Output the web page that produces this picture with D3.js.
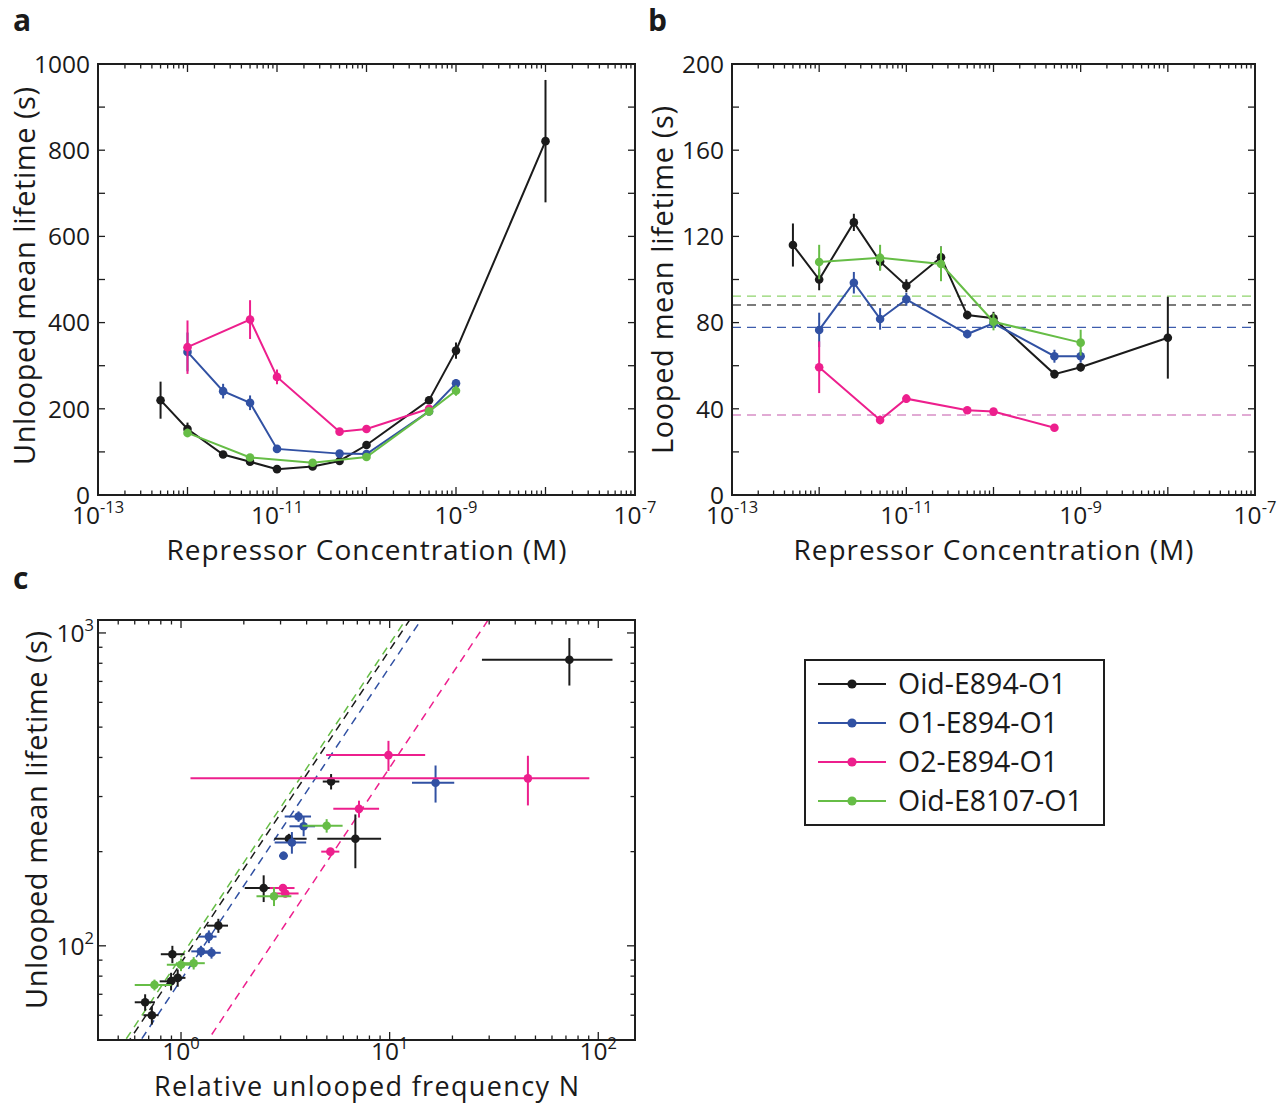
<!DOCTYPE html>
<html>
<head>
<meta charset="utf-8">
<script src="https://cdn.jsdelivr.net/npm/d3@7"></script>
<style>
  body { margin: 0; background: #fff; }
  svg { display: block; }
  text { font-family: "Open Sans", "Noto Sans", sans-serif; fill: #1a1a1a; }
</style>
</head>
<body>
<svg id="fig" width="1278" height="1104"></svg>
<script>
// ---- data (one entry per construct, in legend order) ----
const seriesNames  = ["Oid-E894-O1", "O1-E894-O1", "O2-E894-O1", "Oid-E8107-O1"];
const seriesColors = ["#1b1b1b", "#3151a3", "#ed1f8d", "#66bd46"];

// repressor concentration (M)
const concM = [
  [5e-13, 1e-12, 2.5e-12, 5e-12, 1e-11, 2.5e-11, 5e-11, 1e-10, 5e-10, 1e-9, 1e-8],
  [1e-12, 2.5e-12, 5e-12, 1e-11, 5e-11, 1e-10, 5e-10, 1e-9],
  [1e-12, 5e-12, 1e-11, 5e-11, 1e-10, 5e-10],
  [1e-12, 5e-12, 2.5e-11, 1e-10, 5e-10, 1e-9]
];
// unlooped mean lifetime (s) and its error
const unloopedS = [
  [220, 153, 94, 77, 60, 66, 79, 116, 220, 335, 821],
  [332, 241, 214, 107, 96, 95, 194, 259],
  [343, 407, 274, 147, 153, 200],
  [144, 87, 75, 88, 194, 242]
];
const unloopedErr = [
  [43, 15, 6, 5, 4, 4, 5, 6, 8, 19, 142],
  [45, 17, 17, 5, 4, 4, 6, 10],
  [62, 45, 17, 4, 4, 5],
  [10, 4, 3, 4, 5, 12]
];
// looped mean lifetime (s) and its error (null = not measured)
const loopedS = [
  [116, 100, 126.5, 108.3, 97.1, 110.3, 83.5, 82, 56.1, 59.3, 73],
  [76.6, 98.5, 81.7, 90.8, 74.7, 79.7, 64.4, 64.4],
  [59.3, 34.8, 44.7, 39.3, 38.7, 31.2],
  [108.1, 110.1, 107.2, 80.4, null, 70.7]
];
const loopedErr = [
  [10, 5, 4, 4, 3, 5, 2, 3, 2, 2, 19],
  [8, 5, 5, 3, 2, 2, 3, 3],
  [12, 2, 2, 1, 1, 1],
  [8, 6, 8, 4, null, 6]
];
// average looped lifetime per construct (s)
const loopedMeanS = [88.2, 77.8, 37.1, 92.3];
// relative unlooped frequency N with its lower / upper bounds
const relFreqN = [
  [6.85, 2.49, 0.909, 0.896, 0.725, 0.673, 0.964, 1.51, 3.29, 5.24, 72.7],
  [16.6, 3.87, 3.4, 1.36, 1.246, 1.4, 3.1, 3.66],
  [46, 9.87, 7.13, 3.16, 3.08, 5.2],
  [2.79, 1.0, 0.746, 1.15, null, 4.99]
];
const relFreqLo = [
  [4.5, 2.02, 0.80, 0.79, 0.66, 0.60, 0.88, 1.33, 2.8, 4.78, 27.7],
  [12.8, 3.31, 2.81, 1.21, 1.12, 1.28, 2.95, 3.14],
  [1.11, 4.96, 5.37, 2.81, 2.66, 4.7],
  [2.3, 0.855, 0.6, 1.02, null, 3.82]
];
const relFreqHi = [
  [9.1, 2.97, 1.04, 0.94, 0.78, 0.75, 1.05, 1.68, 4.0, 5.74, 117],
  [20.4, 4.39, 3.98, 1.48, 1.35, 1.55, 3.25, 4.2],
  [90.6, 14.8, 8.9, 3.66, 3.5, 5.74],
  [3.38, 1.17, 0.9, 1.3, null, 5.95]
];

// axis ticks / labels
const concDecades = [-13, -12, -11, -10, -9, -8, -7];
const concLabelExp = [-13, -11, -9, -7];
const unloopedTicksA = d3.range(0, 1001, 100);
const unloopedLabelsA = [0, 200, 400, 600, 800, 1000];
const loopedTicksB = d3.range(0, 201, 20);
const loopedLabelsB = [0, 40, 80, 120, 160, 200];
const freqDecades = [-1, 0, 1, 2];
const freqLabelExp = [0, 1, 2];
const lifeDecades = [1, 2, 3];
const lifeLabelExp = [2, 3];

// ---- drawing ----
const svg = d3.select("#fig");
const INK = "#1e1e1e";
const TICK_FONT = 24.5, SUP_FONT = 16.5, TITLE_FONT = 28;

function frame(g, x0, x1, y0, y1) {
  g.append("rect").attr("x", x0).attr("y", y0).attr("width", x1 - x0).attr("height", y1 - y0)
    .attr("fill", "none").attr("stroke", INK).attr("stroke-width", 2);
}
function tickLine(g, x1, y1, x2, y2) {
  g.append("line").attr("x1", x1).attr("y1", y1).attr("x2", x2).attr("y2", y2)
    .attr("stroke", INK).attr("stroke-width", 1.3);
}
function powerLabel(g, x, y, exp, anchor) {
  const t = g.append("text").attr("x", x).attr("y", y).attr("text-anchor", anchor)
    .style("font-size", TICK_FONT + "px");
  t.append("tspan").text("10");
  t.append("tspan").attr("dy", -11).style("font-size", SUP_FONT + "px").text(exp);
}
function logTicksX(g, x, decades, y0, y1, major, minor) {
  const [lo, hi] = x.domain();
  decades.forEach(d => {
    const base = Math.pow(10, d);
    if (base >= lo * 0.999 && base <= hi * 1.001) {
      tickLine(g, x(base), y1, x(base), y1 - major);
      tickLine(g, x(base), y0, x(base), y0 + major);
    }
    for (let k = 2; k <= 9; k++) {
      const v = k * base;
      if (v < lo || v > hi) continue;
      tickLine(g, x(v), y1, x(v), y1 - minor);
      tickLine(g, x(v), y0, x(v), y0 + minor);
    }
  });
}
function logTicksY(g, y, decades, x0, x1, major, minor) {
  const [lo, hi] = y.domain();
  decades.forEach(d => {
    const base = Math.pow(10, d);
    if (base >= lo && base <= hi) {
      tickLine(g, x0, y(base), x0 + major, y(base));
      tickLine(g, x1, y(base), x1 - major, y(base));
    }
    for (let k = 2; k <= 9; k++) {
      const v = k * base;
      if (v < lo || v > hi) continue;
      tickLine(g, x0, y(v), x0 + minor, y(v));
      tickLine(g, x1, y(v), x1 - minor, y(v));
    }
  });
}
function linTicksY(g, y, ticks, labels, x0, x1, len) {
  ticks.forEach(v => {
    tickLine(g, x0, y(v), x0 + len, y(v));
    tickLine(g, x1, y(v), x1 - len, y(v));
  });
  labels.forEach(v => {
    g.append("text").attr("x", x0 - 8).attr("y", y(v)).attr("dy", "0.36em")
      .attr("text-anchor", "end").style("font-size", TICK_FONT + "px").text(v);
  });
}
function panelLetter(x, y, s) {
  svg.append("text").attr("x", x).attr("y", y).style("font-size", "30px")
    .style("font-weight", "bold").text(s);
}
function yTitle(x, y, s, len) {
  svg.append("text").attr("transform", `translate(${x},${y}) rotate(-90)`)
    .attr("text-anchor", "middle").style("font-size", "29px")
    .attr("textLength", len).attr("lengthAdjust", "spacing").text(s);
}
function xTitle(x, y, s, size, len) {
  svg.append("text").attr("x", x).attr("y", y).attr("text-anchor", "middle")
    .style("font-size", size + "px")
    .attr("textLength", len).attr("lengthAdjust", "spacing").text(s);
}
function rows(i, xs, ys, es) {
  return xs[i].map((c, j) => ({ x: c, y: ys[i][j], e: es[i][j] })).filter(d => d.y != null);
}

// ---- panel a : unlooped lifetime vs concentration ----
{
  const L = 98, R = 635, T = 64, B = 495;
  const x = d3.scaleLog().domain([1e-13, 1e-7]).range([L, R]);
  const y = d3.scaleLinear().domain([0, 1000]).range([B, T]);
  const g = svg.append("g");
  seriesNames.forEach((name, i) => {
    const data = rows(i, concM, unloopedS, unloopedErr);
    const col = seriesColors[i];
    g.append("path").datum(data)
      .attr("d", d3.line().x(d => x(d.x)).y(d => y(d.y)))
      .attr("fill", "none").attr("stroke", col).attr("stroke-width", 2);
    g.selectAll(null).data(data).enter().append("line")
      .attr("x1", d => x(d.x)).attr("x2", d => x(d.x))
      .attr("y1", d => y(d.y - d.e)).attr("y2", d => y(d.y + d.e))
      .attr("stroke", col).attr("stroke-width", 2);
    g.selectAll(null).data(data).enter().append("circle")
      .attr("cx", d => x(d.x)).attr("cy", d => y(d.y)).attr("r", 4.3).attr("fill", col);
  });
  frame(g, L, R, T, B);
  logTicksX(g, x, concDecades, T, B, 8, 4.5);
  linTicksY(g, y, unloopedTicksA, unloopedLabelsA, L, R, 7);
  concLabelExp.forEach(e => powerLabel(g, x(Math.pow(10, e)), 524, e, "middle"));
  xTitle((L + R) / 2, 560, "Repressor Concentration (M)", TITLE_FONT, 400);
  yTitle(35, 276, "Unlooped mean lifetime (s)", 378);
  panelLetter(13, 31, "a");
}

// ---- panel b : looped lifetime vs concentration ----
{
  const L = 732, R = 1255, T = 64, B = 495;
  const x = d3.scaleLog().domain([1e-13, 1e-7]).range([L, R]);
  const y = d3.scaleLinear().domain([0, 200]).range([B, T]);
  const g = svg.append("g");
  const dashCols = ["#505050", "#3d5cad", "#d78fc6", "#8fd36c"];
  seriesNames.forEach((name, i) => {
    g.append("line").attr("x1", L).attr("x2", R)
      .attr("y1", y(loopedMeanS[i])).attr("y2", y(loopedMeanS[i]))
      .attr("stroke", dashCols[i]).attr("stroke-width", 1.4).attr("stroke-dasharray", "9,6");
  });
  seriesNames.forEach((name, i) => {
    const data = rows(i, concM, loopedS, loopedErr);
    const col = seriesColors[i];
    g.append("path").datum(data)
      .attr("d", d3.line().x(d => x(d.x)).y(d => y(d.y)))
      .attr("fill", "none").attr("stroke", col).attr("stroke-width", 2);
    g.selectAll(null).data(data).enter().append("line")
      .attr("x1", d => x(d.x)).attr("x2", d => x(d.x))
      .attr("y1", d => y(d.y - d.e)).attr("y2", d => y(d.y + d.e))
      .attr("stroke", col).attr("stroke-width", 2);
    g.selectAll(null).data(data).enter().append("circle")
      .attr("cx", d => x(d.x)).attr("cy", d => y(d.y)).attr("r", 4.3).attr("fill", col);
  });
  frame(g, L, R, T, B);
  logTicksX(g, x, concDecades, T, B, 8, 4.5);
  linTicksY(g, y, loopedTicksB, loopedLabelsB, L, R, 7);
  concLabelExp.forEach(e => powerLabel(g, x(Math.pow(10, e)), 524, e, "middle"));
  xTitle((L + R) / 2, 560, "Repressor Concentration (M)", TITLE_FONT, 400);
  yTitle(673, 280, "Looped mean lifetime (s)", 348);
  panelLetter(648, 31, "b");
}

// ---- panel c : unlooped lifetime vs relative unlooped frequency ----
{
  const L = 98, R = 635, T = 620, B = 1040;
  const x = d3.scaleLog().domain([0.4, 150]).range([L, R]);
  const y = d3.scaleLog().domain([50, 1100]).range([B, T]);
  const g = svg.append("g");
  svg.append("clipPath").attr("id", "clipC").append("rect")
    .attr("x", L).attr("y", T).attr("width", R - L).attr("height", B - T);
  const lines = g.append("g").attr("clip-path", "url(#clipC)");
  // lifetime = looped lifetime x N
  [3, 0, 1, 2].forEach(i => {
    const n0 = 0.3, n1 = 200;
    lines.append("line")
      .attr("x1", x(n0)).attr("y1", y(loopedMeanS[i] * n0))
      .attr("x2", x(n1)).attr("y2", y(loopedMeanS[i] * n1))
      .attr("stroke", seriesColors[i]).attr("stroke-width", 1.5)
      .attr("stroke-dasharray", "8,6");
  });
  seriesNames.forEach((name, i) => {
    const col = seriesColors[i];
    const data = relFreqN[i].map((n, j) => ({
      n, lo: relFreqLo[i][j], hi: relFreqHi[i][j], t: unloopedS[i][j], e: unloopedErr[i][j]
    })).filter(d => d.n != null);
    g.selectAll(null).data(data).enter().append("line")
      .attr("x1", d => x(d.lo)).attr("x2", d => x(d.hi))
      .attr("y1", d => y(d.t)).attr("y2", d => y(d.t))
      .attr("stroke", col).attr("stroke-width", 2);
    g.selectAll(null).data(data).enter().append("line")
      .attr("x1", d => x(d.n)).attr("x2", d => x(d.n))
      .attr("y1", d => y(d.t - d.e)).attr("y2", d => y(d.t + d.e))
      .attr("stroke", col).attr("stroke-width", 2);
    g.selectAll(null).data(data).enter().append("circle")
      .attr("cx", d => x(d.n)).attr("cy", d => y(d.t)).attr("r", 4.3).attr("fill", col);
  });
  frame(g, L, R, T, B);
  logTicksX(g, x, freqDecades, T, B, 8, 4.5);
  logTicksY(g, y, lifeDecades, L, R, 8, 4.5);
  freqLabelExp.forEach(e => powerLabel(g, x(Math.pow(10, e)), 1059.5, e, "middle"));
  lifeLabelExp.forEach(e => powerLabel(g, L - 4, y(Math.pow(10, e)) + 9, e, "end"));
  xTitle((L + R) / 2, 1096, "Relative unlooped frequency N", 27, 425);
  yTitle(47, 820, "Unlooped mean lifetime (s)", 378);
  panelLetter(13, 589, "c");
}

// ---- legend ----
{
  const g = svg.append("g");
  g.append("rect").attr("x", 805).attr("y", 660).attr("width", 299).attr("height", 165)
    .attr("fill", "#fff").attr("stroke", INK).attr("stroke-width", 2);
  const rowY = d3.scalePoint().domain(seriesNames).range([684, 801]);
  seriesNames.forEach((name, i) => {
    const yy = rowY(name);
    g.append("line").attr("x1", 818).attr("x2", 886).attr("y1", yy).attr("y2", yy)
      .attr("stroke", seriesColors[i]).attr("stroke-width", 2.2);
    g.append("circle").attr("cx", 852).attr("cy", yy).attr("r", 4.6).attr("fill", seriesColors[i]);
    g.append("text").attr("x", 898).attr("y", yy).attr("dy", "0.36em")
      .style("font-size", "28.5px").text(name);
  });
}
</script>
</body>
</html>
